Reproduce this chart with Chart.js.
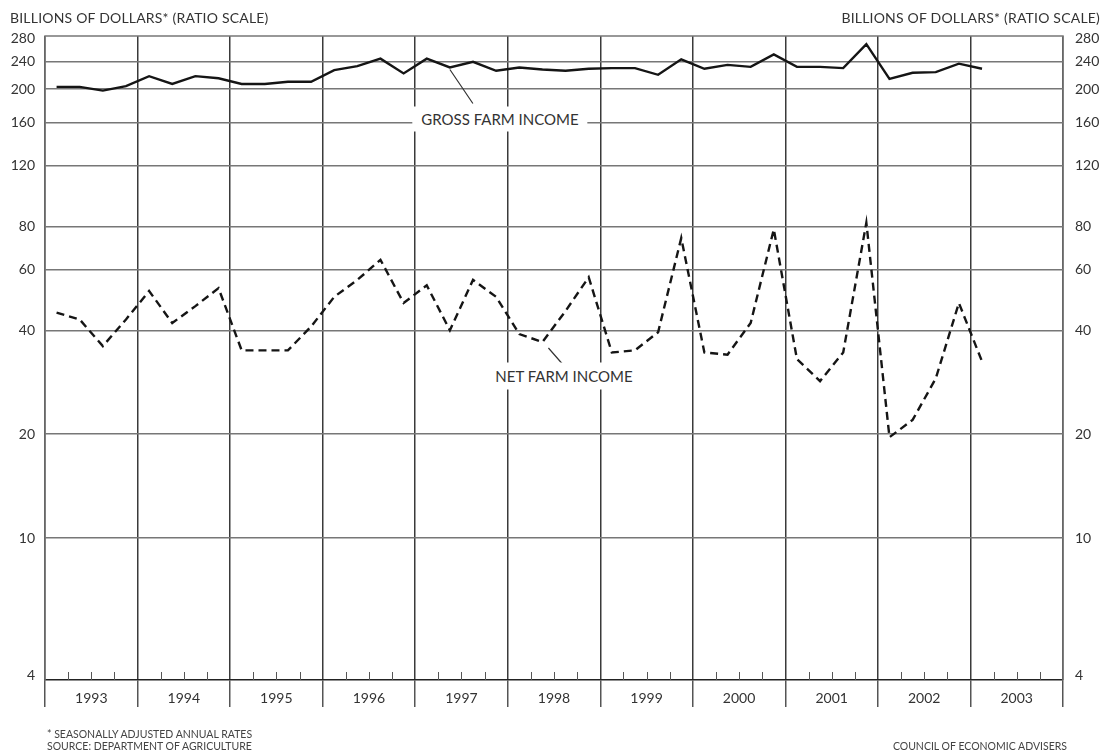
<!DOCTYPE html>
<html>
<head>
<meta charset="utf-8">
<script src="https://cdn.jsdelivr.net/npm/chart.js@4/dist/chart.umd.min.js"></script>
<style>
  body { margin: 0; background: #fff; }
  #wrap { position: relative; width: 1104px; height: 754px; font-family: Lato, "DejaVu Sans", sans-serif; color: #333; }
  canvas { position: absolute; left: 0; top: 0; }
  .txt { position: absolute; white-space: nowrap; line-height: 1; }
  .title { font-size: 14px; top: 11px; letter-spacing: 0.2px; }
  .note { font-size: 10.5px; color: #444; }
  .series { font-size: 15px; background: #fff; padding: 5px 9px; transform: translate(-50%, -50%); }
</style>
</head>
<body>
<div id="wrap">
  <canvas id="chart" width="1104" height="754"></canvas>
  <div class="txt title" style="left:10px">BILLIONS OF DOLLARS* (RATIO SCALE)</div>
  <div class="txt title" style="right:4px">BILLIONS OF DOLLARS* (RATIO SCALE)</div>
  <div class="txt series" style="left:500px;top:119px">GROSS FARM INCOME</div>
  <div class="txt series" style="left:564px;top:376px;padding:6px 2px">NET FARM INCOME</div>
  <div class="txt note" style="left:47px;top:729px">* SEASONALLY ADJUSTED ANNUAL RATES</div>
  <div class="txt note" style="left:47px;top:741px">SOURCE: DEPARTMENT OF AGRICULTURE</div>
  <div class="txt note" style="right:37px;top:741px">COUNCIL OF ECONOMIC ADVISERS</div>
</div>
<script>
// quarterly, 1993 Q1 to 2003 Q1, billions of dollars (seasonally adjusted annual rates)
const years = ["1993", "1994", "1995", "1996", "1997", "1998", "1999", "2000", "2001", "2002", "2003"];
const grossFarmIncome = [
  203, 203, 198, 204,
  218, 207, 218, 215,
  207, 207, 210, 210,
  227, 233, 245, 222,
  245, 231, 240, 226,
  231, 228, 226, 229,
  230, 230, 220, 244,
  229, 235, 232, 252,
  232, 232, 230, 270,
  214, 223, 224, 237,
  229
];
const netFarmIncome = [
  45, 43, 36, 43,
  52, 42, 47, 53,
  35, 35, 35, 41,
  50, 56, 64, 48,
  54, 40, 56, 50,
  39, 37, 45.5, 57,
  34.5, 35, 39.5, 74,
  34.5, 34, 42, 78.5,
  33, 28.5, 34.5, 82,
  19.6, 22, 29, 48,
  32.5
];
const yTicks = [4, 10, 20, 40, 60, 80, 120, 160, 200, 240, 280];

// quarter midpoints on a year axis (1993.125 = 1993 Q1)
const firstYear = Number(years[0]);
const quarterX = grossFarmIncome.map((_, i) => firstYear + Math.floor(i / 4) + ((i % 4) + 0.5) / 4);
const quarterEdges = [];
for (let v = firstYear; v <= firstYear + years.length + 1e-9; v += 0.25) quarterEdges.push(v);

const ink = "#151515";

const decor = {
  id: "decor",
  beforeDatasetsDraw(chart) {
    const { ctx, chartArea: a, scales } = chart;
    ctx.save();
    // frame
    ctx.strokeStyle = "#777";
    ctx.lineWidth = 1.5;
    ctx.beginPath();
    ctx.moveTo(a.left, a.bottom);
    ctx.lineTo(a.left, a.top);
    ctx.lineTo(a.right, a.top);
    ctx.lineTo(a.right, a.bottom);
    ctx.stroke();
    // quarter ticks standing on the axis
    ctx.strokeStyle = "#555";
    ctx.lineWidth = 1;
    ctx.beginPath();
    quarterEdges.forEach(v => {
      if (Math.abs(v - Math.round(v)) < 1e-6) return;
      const x = Math.round(scales.x.getPixelForValue(v)) + 0.5;
      ctx.moveTo(x, a.bottom - 8);
      ctx.lineTo(x, a.bottom);
    });
    ctx.stroke();
    ctx.restore();
  },
  afterDatasetsDraw(chart) {
    const { ctx } = chart;
    const g = chart.getDatasetMeta(0).data[17];
    const n = chart.getDatasetMeta(1).data[21];
    ctx.save();
    ctx.strokeStyle = "#333";
    ctx.lineWidth = 1.2;
    ctx.beginPath();
    ctx.moveTo(g.x, g.y + 2);
    ctx.lineTo(g.x + 23, g.y + 36);
    ctx.moveTo(n.x + 6, n.y + 6);
    ctx.lineTo(n.x + 20, n.y + 22);
    ctx.stroke();
    ctx.restore();
  }
};

const tickFont = { family: "Lato, 'DejaVu Sans', sans-serif", size: 14 };

const yAxis = (position) => ({
  type: "logarithmic",
  position,
  min: 3.88,
  max: 285,
  afterBuildTicks: s => { s.ticks = yTicks.map(v => ({ value: v })); },
  afterFit: s => { s.width = position === "left" ? 45 : 41; },
  border: { display: false },
  grid: {
    display: position === "left",
    drawTicks: false,
    lineWidth: 1.5,
    color: c => (c.tick && (c.tick.value === 280 || c.tick.value === 4)) ? "rgba(0,0,0,0)" : "#777"
  },
  ticks: {
    padding: position === "left" ? 10 : 12,
    color: "#333",
    font: tickFont,
    callback: v => String(v)
  }
});

new Chart(document.getElementById("chart"), {
  type: "line",
  data: {
    datasets: [
      {
        label: "GROSS FARM INCOME",
        data: grossFarmIncome.map((y, i) => ({ x: quarterX[i], y })),
        borderColor: ink,
        borderWidth: 2.4,
        pointRadius: 0,
        tension: 0,
        yAxisID: "y"
      },
      {
        label: "NET FARM INCOME",
        data: netFarmIncome.map((y, i) => ({ x: quarterX[i], y })),
        borderColor: ink,
        borderWidth: 2.4,
        borderDash: [8, 5],
        pointRadius: 0,
        tension: 0,
        yAxisID: "y"
      }
    ]
  },
  options: {
    responsive: false,
    animation: false,
    layout: { padding: { top: 36, left: 0, right: 0, bottom: 0 } },
    plugins: { legend: { display: false }, tooltip: { enabled: false } },
    scales: {
      x: {
        type: "linear",
        min: firstYear,
        max: firstYear + years.length,
        afterBuildTicks: s => { s.ticks = quarterEdges.map(v => ({ value: v })); },
        afterFit: s => { s.height = 74; },
        border: { display: true, color: "#222", width: 1.6 },
        grid: {
          lineWidth: 1.5,
          tickLength: 27,
          tickWidth: 1.5,
          color: c => (c.tick && Math.abs(c.tick.value % 1) < 1e-6) ? "#3a3a3a" : "rgba(0,0,0,0)",
          tickColor: c => (c.tick && Math.abs(c.tick.value % 1) < 1e-6) ? "#555" : "rgba(0,0,0,0)"
        },
        ticks: {
          autoSkip: false,
          maxRotation: 0,
          padding: -17,
          color: "#333",
          font: tickFont,
          callback: v => (Math.abs(v % 1 - 0.5) < 1e-6) ? years[Math.floor(v) - firstYear] : ""
        }
      },
      y: yAxis("left"),
      y2: yAxis("right")
    }
  },
  plugins: [decor]
});
</script>
</body>
</html>
